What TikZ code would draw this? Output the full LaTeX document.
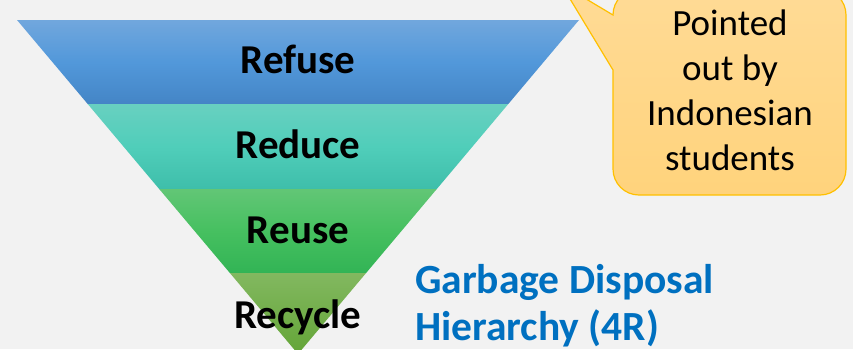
\documentclass[tikz,border=0pt]{standalone}
\usepackage{fontspec}
\setmainfont{Carlito}
\definecolor{bgray}{RGB}{242,242,242}
\definecolor{titleblue}{RGB}{0,112,192}
\definecolor{calloutline}{RGB}{255,192,0}
\tikzset{
  band/.style={draw=none},
  bandlabel/.style={anchor=base,inner sep=0pt,font=\bfseries\fontsize{41}{45}\selectfont},
  titleline/.style={anchor=base west,inner sep=0pt,text=titleblue,font=\bfseries\fontsize{41.5}{47}\selectfont},
  callout/.style={draw=calloutline,line width=1.2pt,top color={rgb,255:red,255;green,219;blue,150},bottom color={rgb,255:red,255;green,211;blue,124}}
}
\begin{document}
\begin{tikzpicture}[x=1pt,y=-1pt]

            %\draw [help lines] (0,0) grid (853,349);
            \useasboundingbox (0,0) rectangle (853,349);
            \clip (0,0) rectangle (853,349);
            \fill[bgray] (0,0) rectangle (853,349);

            \shade[band,top color={rgb,255:red,113;green,167;blue,221},bottom color={rgb,255:red,68;green,133;blue,198},middle color={rgb,255:red,82;green,152;blue,218}]
                (17,20) -- (579,20) -- (508.3,104) -- (87.7,104) -- cycle;
            \shade[band,top color={rgb,255:red,104;green,208;blue,192},bottom color={rgb,255:red,62;green,190;blue,170},middle color={rgb,255:red,80;green,206;blue,186}]
                (87.7,104) -- (508.3,104) -- (436.8,189) -- (159.2,189) -- cycle;
            \shade[band,top color={rgb,255:red,98;green,198;blue,118},bottom color={rgb,255:red,50;green,180;blue,85},middle color={rgb,255:red,70;green,192;blue,96}]
                (159.2,189) -- (436.8,189) -- (366.1,273) -- (229.9,273) -- cycle;
            \shade[band,top color={rgb,255:red,130;green,184;blue,96},bottom color={rgb,255:red,100;green,165;blue,55}]
                (229.9,273) -- (366.1,273) -- (298,354) -- cycle;

            \path   (298,73)  node (refuse)  [bandlabel] {Refuse}
                    (298,158) node (reduce)  [bandlabel] {Reduce}
                    (298,243) node (reuse)   [bandlabel] {Reuse}
                    (298,328) node (recycle) [bandlabel] {Recycle};

            \draw[callout] (561,-16) -- (613,70) [rounded corners=26pt] -- (613,195) -- (846,195) -- (846,-11) -- (613,-11) [sharp corners] -- (613,15) -- cycle;
            \node (note) [align=center,inner sep=0pt,font=\fontsize{37}{45}\selectfont] at (730,90)
                {Pointed\\out by\\Indonesian\\students};

            \path   (415,293) node (title) [titleline] {Garbage Disposal}
                    (415,340) node (titlesub) [titleline] {Hierarchy (4R)};
        \end{tikzpicture}
\end{document}
